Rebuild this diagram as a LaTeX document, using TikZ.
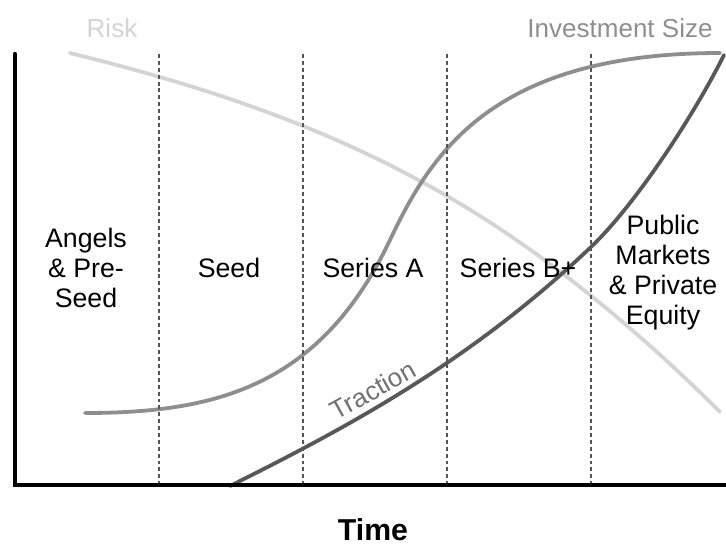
\documentclass[tikz,border=0pt]{standalone}
\usepackage{fontspec}
\setmainfont{Liberation Sans}

\definecolor{riskgray}{HTML}{D4D4D4}
\definecolor{investgray}{HTML}{8E8E8E}
\definecolor{tractgray}{HTML}{585858}
\definecolor{divgray}{HTML}{555555}

\begin{document}
\begin{tikzpicture}[x=0.025cm,y=-0.025cm,
	stage/.style={align=center,font=\fontsize{19}{21.3}\selectfont},
	curvelabel/.style={font=\fontsize{18.5}{21}\selectfont},
	divider/.style={draw=divgray,line width=1.3pt,dash pattern=on 2.8pt off 2.1pt},
	curve/.style={line width=2.7pt,line cap=round}]
	\useasboundingbox (0,0) rectangle (726,547);
	
	
	
	% risk, falling over time
	\draw [curve,riskgray] (70,53) .. controls (195,84) and (322,123.5) .. (447,196)
		.. controls (537,248) and (630,322) .. (720,412);
	
	% investment size, s-shaped
	\draw [curve,investgray] (85,413) .. controls (215,413) and (320,387) .. (390,240)
		.. controls (430,156) and (490,53) .. (720,53);
	
	% traction, rising faster and faster
	\draw [curve,tractgray] (230,486) .. controls (350,426) and (471,361) .. (591,247)
		.. controls (636,204) and (694,115) .. (724,55);
	
	
	
	% stage borders
	\foreach \sx in {159,303,447,591}
		\draw [divider] (\sx,54) -- (\sx,485);
	
	% axes
	\draw [line width=3pt,line cap=round] (15,54) -- (15,485) -- (726,485);
	
	
	
	% stages
	\node[stage] (angels) at (86,268) {Angels\\\& Pre-\\Seed};
	\node[stage] (seed) at (229,268) {Seed};
	\node[stage] (seriesA) at (373,268) {Series A};
	\node[stage] (seriesB) at (518,268) {Series B+};
	\node[stage] (public) at (663,273) {Public\\Markets\\\& Private\\Equity};
	
	% curve names
	\node[curvelabel,riskgray] (risk) at (112,28) {Risk};
	\node[curvelabel,investgray] (invest) at (620,28) {Investment Size};
	\node[curvelabel,text=tractgray!85!white,rotate=29] (traction) at (373,390) {Traction};
	
	% time axis
	\node[font=\fontsize{21.5}{24}\selectfont\bfseries] (time) at (373,530) {Time};
	 
\end{tikzpicture}
\end{document}
